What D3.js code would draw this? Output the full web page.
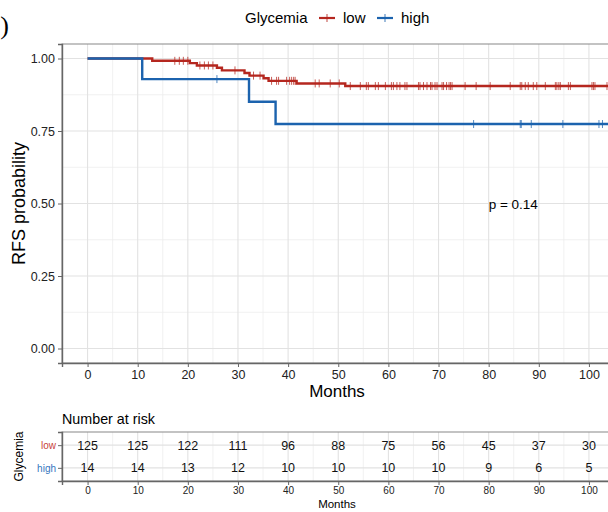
<!DOCTYPE html>
<html>
<head>
<meta charset="utf-8">
<script src="https://cdn.jsdelivr.net/npm/d3@7"></script>
<style>
  body { margin: 0; background: #fff; }
  svg { display: block; font-family: 'Liberation Sans', Arial, sans-serif; }
</style>
</head>
<body>
<div id="chart"></div>
<script>
// survival steps (time in months, survival probability)
const lowTimes = [0, 12.9, 20.4, 21.8, 25.8, 26.8, 31.3, 32.3, 35.1, 36.1, 41.7, 51.4, 108];
const lowSurv = [1, 0.992, 0.984, 0.976, 0.968, 0.959, 0.950, 0.941, 0.932, 0.923, 0.914, 0.905, 0.905];
const highTimes = [0, 10.9, 32.2, 37.5, 108];
const highSurv = [1, 0.929, 0.851, 0.774, 0.774];

// censoring times
const lowCensor = [17.4, 18.3, 19.1, 20.0, 22.4, 23.3, 24.1, 25.0, 29.4, 33.1, 34.4, 36.7, 37.7, 38.1,
  39.7, 40.3, 40.7, 41.1, 41.4, 45.4, 46.2, 48.4, 50.2, 52.4, 54.4, 55.6, 56.0, 57.4, 58.0, 59.4,
  60.6, 61.0, 61.7, 62.3, 63.3, 63.7, 66.0, 66.3, 67.0, 67.7, 68.4, 68.7, 69.3, 69.7, 70.7, 71.0,
  71.6, 72.1, 72.4, 72.7, 75.3, 77.5, 80.3, 84.3, 86.3, 86.6, 87.3, 87.9, 88.9, 89.6, 91.3, 93.3,
  93.6, 94.0, 94.3, 95.9, 96.3, 100.6, 100.9, 101.2, 103.6];
const highCensor = [25.8, 77.0, 86.3, 86.5, 88.5, 94.8, 102.0, 102.7];

// number at risk table
const riskTimes = [0, 10, 20, 30, 40, 50, 60, 70, 80, 90, 100];
const riskLow = [125, 125, 122, 111, 96, 88, 75, 56, 45, 37, 30];
const riskHigh = [14, 14, 13, 12, 10, 10, 10, 10, 9, 6, 5];

const groups = ['low', 'high'];
const colors = { low: '#b5271f', high: '#1c63ae' };
const labelColors = { low: '#c8413a', high: '#3578c0' };

const W = 608, H = 512;
const panel = { left: 62, right: 612, top: 44, bottom: 363 };
const table = { top: 432, bottom: 481 };

const svg = d3.select('#chart').append('svg')
  .attr('width', W)
  .attr('height', H);

svg.append('rect').attr('width', W).attr('height', H).attr('fill', '#fff');

const x = d3.scaleLinear().domain([-5.1, 104.6]).range([panel.left, panel.right]);
const y = d3.scaleLinear().domain([-0.05, 1.05]).range([panel.bottom, panel.top]);

const xMajor = d3.range(0, 101, 10);
const xMinor = d3.range(5, 106, 10);
const yMajor = [0, 0.25, 0.5, 0.75, 1];
const yMinor = [0.125, 0.375, 0.625, 0.875];

svg.append('defs').append('clipPath').attr('id', 'clip')
  .append('rect')
  .attr('x', panel.left).attr('y', panel.top)
  .attr('width', panel.right - panel.left).attr('height', panel.bottom - panel.top);

// grid
const grid = svg.append('g');
grid.selectAll('.xmin').data(xMinor).enter().append('line')
  .attr('x1', (d) => x(d)).attr('x2', (d) => x(d))
  .attr('y1', panel.top).attr('y2', panel.bottom)
  .attr('stroke', '#eeeeee').attr('stroke-width', 0.8);
grid.selectAll('.ymin').data(yMinor).enter().append('line')
  .attr('x1', panel.left).attr('x2', panel.right)
  .attr('y1', (d) => y(d)).attr('y2', (d) => y(d))
  .attr('stroke', '#eeeeee').attr('stroke-width', 0.8);
grid.selectAll('.xmaj').data(xMajor).enter().append('line')
  .attr('x1', (d) => x(d)).attr('x2', (d) => x(d))
  .attr('y1', panel.top).attr('y2', panel.bottom)
  .attr('stroke', '#e2e2e2').attr('stroke-width', 1.1);
grid.selectAll('.ymaj').data(yMajor).enter().append('line')
  .attr('x1', panel.left).attr('x2', panel.right)
  .attr('y1', (d) => y(d)).attr('y2', (d) => y(d))
  .attr('stroke', '#e2e2e2').attr('stroke-width', 1.1);

// curves
const stepLine = d3.line().curve(d3.curveStepAfter)
  .x((d) => x(d[0])).y((d) => y(d[1]));

const curves = svg.append('g').attr('clip-path', 'url(#clip)');
const series = {
  low: { times: lowTimes, surv: lowSurv, censor: lowCensor },
  high: { times: highTimes, surv: highSurv, censor: highCensor },
};

['low', 'high'].forEach((g) => {
  const s = series[g];
  const pts = s.times.map((t, i) => [t, s.surv[i]]);
  curves.append('path')
    .attr('d', stepLine(pts))
    .attr('fill', 'none')
    .attr('stroke', colors[g])
    .attr('stroke-width', 2.4);
  // survival at a censoring time
  const survAt = (t) => s.surv[d3.bisectRight(s.times, t) - 1];
  curves.selectAll(null).data(s.censor).enter().append('line')
    .attr('x1', (d) => x(d)).attr('x2', (d) => x(d))
    .attr('y1', (d) => y(survAt(d)) - 4).attr('y2', (d) => y(survAt(d)) + 4)
    .attr('stroke', colors[g])
    .attr('stroke-width', 1)
    .attr('opacity', 0.75);
});

// panel border and axis lines
svg.append('rect')
  .attr('x', panel.left).attr('y', panel.top)
  .attr('width', panel.right - panel.left).attr('height', panel.bottom - panel.top)
  .attr('fill', 'none').attr('stroke', '#888').attr('stroke-width', 1);

const yAxis = svg.append('g')
  .attr('transform', `translate(${panel.left},0)`)
  .call(d3.axisLeft(y).tickValues(yMajor).tickFormat(d3.format('.2f')).tickSize(4).tickPadding(3));
const xAxis = svg.append('g')
  .attr('transform', `translate(0,${panel.bottom})`)
  .call(d3.axisBottom(x).tickValues(xMajor).tickSize(4).tickPadding(3));

[xAxis, yAxis].forEach((ax) => {
  ax.select('.domain').attr('stroke', '#666').attr('stroke-width', 1.4);
  ax.selectAll('.tick line').attr('stroke', '#666');
  ax.selectAll('.tick text')
    .style('font-family', "'Liberation Sans', Arial, sans-serif")
    .style('font-size', '12.5px')
    .attr('fill', '#222');
});

// axis titles
svg.append('text')
  .attr('transform', `translate(25,${(panel.top + panel.bottom) / 2}) rotate(-90)`)
  .attr('text-anchor', 'middle')
  .style('font-size', '18px')
  .text('RFS probability');

svg.append('text')
  .attr('x', 337).attr('y', 397)
  .attr('text-anchor', 'middle')
  .style('font-size', '17px')
  .text('Months');

// p value
svg.append('text')
  .attr('x', x(80)).attr('y', y(0.5) + 5)
  .style('font-size', '13.5px')
  .text('p = 0.14');

// panel tag (cut off)
svg.append('text')
  .attr('x', 9).attr('y', 34)
  .attr('text-anchor', 'end')
  .style('font-family', "'Liberation Serif', 'Times New Roman', serif")
  .style('font-size', '26px')
  .text('b)');

// legend
const legend = svg.append('g').attr('transform', 'translate(0,23)');
legend.append('text').attr('x', 245).attr('y', 0)
  .style('font-size', '15px').text('Glycemia');
const keyX = { low: 319, high: 377 };
groups.forEach((g) => {
  const k = legend.append('g').attr('transform', `translate(${keyX[g]},-5)`);
  k.append('line').attr('x1', 0).attr('x2', 16).attr('y1', 0).attr('y2', 0)
    .attr('stroke', colors[g]).attr('stroke-width', 2.2);
  k.append('line').attr('x1', 8).attr('x2', 8).attr('y1', -4).attr('y2', 4)
    .attr('stroke', colors[g]).attr('stroke-width', 1.2).attr('opacity', 0.7);
  legend.append('text').attr('x', keyX[g] + 24).attr('y', 0)
    .style('font-size', '15px').text(g);
});

// risk table
svg.append('text')
  .attr('x', panel.left).attr('y', 424)
  .style('font-size', '14.3px')
  .text('Number at risk');

const ry = d3.scalePoint().domain(groups).range([table.top, table.bottom]).padding(0.58);

const tg = svg.append('g');
tg.selectAll('.xmin').data(xMinor).enter().append('line')
  .attr('x1', (d) => x(d)).attr('x2', (d) => x(d))
  .attr('y1', table.top).attr('y2', table.bottom)
  .attr('stroke', '#eeeeee').attr('stroke-width', 0.8);
tg.selectAll('.xmaj').data(xMajor).enter().append('line')
  .attr('x1', (d) => x(d)).attr('x2', (d) => x(d))
  .attr('y1', table.top).attr('y2', table.bottom)
  .attr('stroke', '#e2e2e2').attr('stroke-width', 1.1);
tg.selectAll('.ymaj').data(groups).enter().append('line')
  .attr('x1', panel.left).attr('x2', panel.right)
  .attr('y1', (d) => ry(d)).attr('y2', (d) => ry(d))
  .attr('stroke', '#e2e2e2').attr('stroke-width', 1.1);

const riskRows = { low: riskLow, high: riskHigh };
groups.forEach((g) => {
  tg.selectAll(null).data(riskTimes).enter().append('text')
    .attr('x', (d) => x(d))
    .attr('y', ry(g) + 4.5)
    .attr('text-anchor', 'middle')
    .style('font-size', '12.5px')
    .attr('fill', '#111')
    .text((d, i) => riskRows[g][i]);
});

svg.append('rect')
  .attr('x', panel.left).attr('y', table.top)
  .attr('width', panel.right - panel.left).attr('height', table.bottom - table.top)
  .attr('fill', 'none').attr('stroke', '#888').attr('stroke-width', 1);

const tyAxis = svg.append('g')
  .attr('transform', `translate(${panel.left},0)`)
  .call(d3.axisLeft(ry).tickSize(4).tickPadding(2));
const txAxis = svg.append('g')
  .attr('transform', `translate(0,${table.bottom})`)
  .call(d3.axisBottom(x).tickValues(xMajor).tickSize(4).tickPadding(2));

[tyAxis, txAxis].forEach((ax) => {
  ax.select('.domain').attr('stroke', '#666').attr('stroke-width', 1.4);
  ax.selectAll('.tick line').attr('stroke', '#666');
  ax.selectAll('.tick text')
    .style('font-family', "'Liberation Sans', Arial, sans-serif")
    .style('font-size', '10px')
    .attr('fill', '#222');
});
tyAxis.selectAll('.tick text').attr('fill', (d) => labelColors[d]);

svg.append('text')
  .attr('transform', `translate(23,${(table.top + table.bottom) / 2}) rotate(-90)`)
  .attr('text-anchor', 'middle')
  .style('font-size', '12px')
  .text('Glycemia');

svg.append('text')
  .attr('x', 337).attr('y', 508)
  .attr('text-anchor', 'middle')
  .style('font-size', '11.5px')
  .text('Months');
</script>
</body>
</html>
